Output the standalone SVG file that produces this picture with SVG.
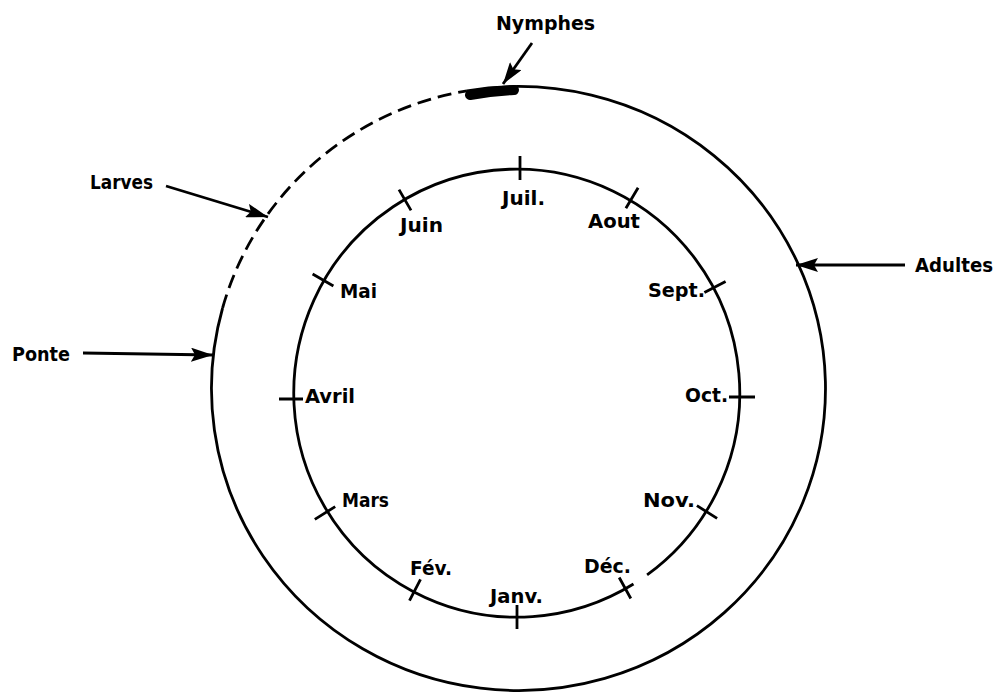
<svg xmlns="http://www.w3.org/2000/svg" width="1002" height="698" viewBox="0 0 1002 698">
<style>
.ring{fill:none;stroke:#000;stroke-width:2.8}
.tick{stroke:#000;stroke-width:2.8;fill:none}
.arr{stroke:#000;stroke-width:2.8;fill:none}
.lbl{font-family:"DejaVu Sans",sans-serif;font-weight:bold;font-size:20px;fill:#000}
.mon{font-family:"DejaVu Sans",sans-serif;font-weight:bold;font-size:19px;fill:#000}
</style>
<defs>
<marker id="ah" markerUnits="userSpaceOnUse" markerWidth="22" markerHeight="14" refX="22" refY="7" orient="auto">
<path d="M0,0 L22,7 L0,14 L4,7 z" fill="#000"/>
</marker>
</defs>
<rect width="1002" height="698" fill="#fff"/>
<g id="outer-cycle">
<path class="ring" d="M 467,90.8 A 307 302 0 1 1 222.6,308"/>
<path class="ring" stroke-dasharray="14 7" d="M 222.6,308 A 307 302 0 0 1 467,90.8"/>
<path d="M 470,95 A 307 298 0 0 1 514,90" fill="none" stroke="#000" stroke-width="10" stroke-linecap="round"/>
</g>
<g id="month-ring">
<path class="ring" d="M 647.1,574.9 A 223 224 0 1 0 633.5,584"/>
<path class="tick" d="M520,156 L520,180 M638.1,187.7 L625.9,208.3 M725.6,281.4 L704.4,292.6 M729,397 L755,397 M717.1,518.4 L696.9,505.6 M630.8,598.5 L619.2,577.5 M517,605 L517,629 M409.5,600.7 L420.5,579.3 M314.8,519.4 L335.2,506.6 M279,399 L303,399 M312.6,274 L333.4,286 M399,189.6 L411,210.4"/>
</g>
<g id="months">
<text class="mon" x="502" y="205" textLength="43" lengthAdjust="spacingAndGlyphs">Juil.</text>
<text class="mon" x="588" y="228" textLength="52" lengthAdjust="spacingAndGlyphs">Aout</text>
<text class="mon" x="648" y="297" textLength="57" lengthAdjust="spacingAndGlyphs">Sept.</text>
<text class="mon" x="685" y="402" textLength="43" lengthAdjust="spacingAndGlyphs">Oct.</text>
<text class="mon" x="643" y="507" textLength="52" lengthAdjust="spacingAndGlyphs">Nov.</text>
<text class="mon" x="584" y="573" textLength="47" lengthAdjust="spacingAndGlyphs">Déc.</text>
<text class="mon" x="490" y="603" textLength="53" lengthAdjust="spacingAndGlyphs">Janv.</text>
<text class="mon" x="410" y="575" textLength="42" lengthAdjust="spacingAndGlyphs">Fév.</text>
<text class="mon" x="342" y="507" textLength="47" lengthAdjust="spacingAndGlyphs">Mars</text>
<text class="mon" x="305" y="403" textLength="50" lengthAdjust="spacingAndGlyphs">Avril</text>
<text class="mon" x="340" y="298" textLength="37" lengthAdjust="spacingAndGlyphs">Mai</text>
<text class="mon" x="400" y="232" textLength="43" lengthAdjust="spacingAndGlyphs">Juin</text>
</g>
<g id="nymphes">
<text class="lbl" x="496" y="30" textLength="99" lengthAdjust="spacingAndGlyphs">Nymphes</text>
</g>
<g id="larves">
<text class="lbl" x="90" y="189" textLength="63" lengthAdjust="spacingAndGlyphs">Larves</text>
</g>
<g id="adultes">
<text class="lbl" x="915" y="272" textLength="78" lengthAdjust="spacingAndGlyphs">Adultes</text>
</g>
<g id="ponte">
<text class="lbl" x="12" y="361" textLength="58" lengthAdjust="spacingAndGlyphs">Ponte</text>
</g>
<g id="connectors">
<path class="arr" marker-end="url(#ah)" d="M532,43 L503,84"/>
<path class="arr" marker-end="url(#ah)" d="M166,186 L268,217"/>
<path class="arr" marker-end="url(#ah)" d="M905,265 L796,265"/>
<path class="arr" marker-end="url(#ah)" d="M83,353 L213,355"/>
</g>
</svg>
